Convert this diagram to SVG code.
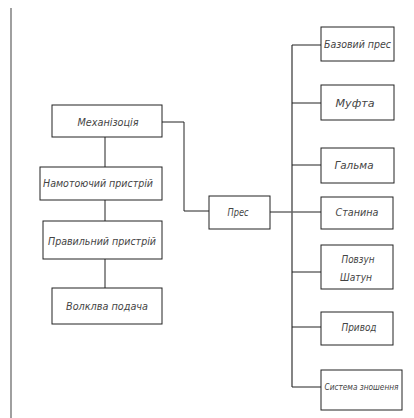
<svg xmlns="http://www.w3.org/2000/svg" width="414" height="418" viewBox="0 0 414 418">
<style>
.box{fill:#fff;stroke:#222;stroke-width:1}
.t{font-family:"DejaVu Sans Condensed","Liberation Sans Narrow","DejaVu Sans",sans-serif;font-style:italic;font-size:11px;fill:#444;text-anchor:middle;dominant-baseline:central}
.s{font-size:9px}
.c{fill:none;stroke:#222;stroke-width:1}
.bus{fill:none;stroke:#666;stroke-width:1.6}
</style>
<rect width="414" height="418" fill="#fff"/>
<line x1="11" y1="8" x2="11" y2="418" stroke="#888" stroke-width="1.6"/>
<g id="connectors">
<path class="c" d="M105 137V167M105 200V221M105 259V288"/>
<path class="c" d="M162 122H184V211H209"/>
<path class="c" d="M270 212H321"/>
<path class="bus" d="M292 45V387"/>
<path class="c" d="M292 45H321M292 103H321M292 165H321M292 272H321M292 327H321M292 387H321"/>
</g>
<g id="mech"><rect class="box" x="52" y="105" width="110" height="32"/><text class="t" x="108" y="122" textLength="61" lengthAdjust="spacingAndGlyphs">Механізоція</text></g>
<g id="namot"><rect class="box" x="40" y="167" width="122" height="33"/><text class="t" x="98" y="183" textLength="110" lengthAdjust="spacingAndGlyphs">Намотоючий пристрій</text></g>
<g id="prav"><rect class="box" x="43" y="221" width="119" height="38"/><text class="t" x="102" y="241" textLength="108" lengthAdjust="spacingAndGlyphs">Правильний пристрій</text></g>
<g id="valk"><rect class="box" x="52" y="288" width="110" height="36"/><text class="t" x="107" y="306" textLength="82" lengthAdjust="spacingAndGlyphs">Волклва подача</text></g>
<g id="pres"><rect class="box" x="209" y="196" width="61" height="33"/><text class="t" x="238" y="212" textLength="21" lengthAdjust="spacingAndGlyphs">Прес</text></g>
<g id="baz"><rect class="box" x="321" y="27" width="73" height="34"/><text class="t" x="357.5" y="44" textLength="67" lengthAdjust="spacingAndGlyphs">Базовий прес</text></g>
<g id="mufta"><rect class="box" x="321" y="85" width="73" height="35"/><text class="t" x="355" y="103" textLength="39" lengthAdjust="spacingAndGlyphs">Муфта</text></g>
<g id="galma"><rect class="box" x="321" y="148" width="73" height="35"/><text class="t" x="354" y="165" textLength="39" lengthAdjust="spacingAndGlyphs">Гальма</text></g>
<g id="stanina"><rect class="box" x="321" y="197" width="72" height="32"/><text class="t" x="357" y="212" textLength="43" lengthAdjust="spacingAndGlyphs">Станина</text></g>
<g id="povzun"><rect class="box" x="321" y="245" width="72" height="44"/><text class="t" x="358" y="259" textLength="33" lengthAdjust="spacingAndGlyphs">Повзун</text><text class="t" x="356" y="277" textLength="32" lengthAdjust="spacingAndGlyphs">Шатун</text></g>
<g id="pryvod"><rect class="box" x="321" y="312" width="72" height="33"/><text class="t" x="359" y="327" textLength="35" lengthAdjust="spacingAndGlyphs">Привод</text></g>
<g id="systema"><rect class="box" x="321" y="370" width="81" height="40"/><text class="t s" x="361.5" y="387" textLength="74" lengthAdjust="spacingAndGlyphs">Система зношення</text></g>
</svg>
